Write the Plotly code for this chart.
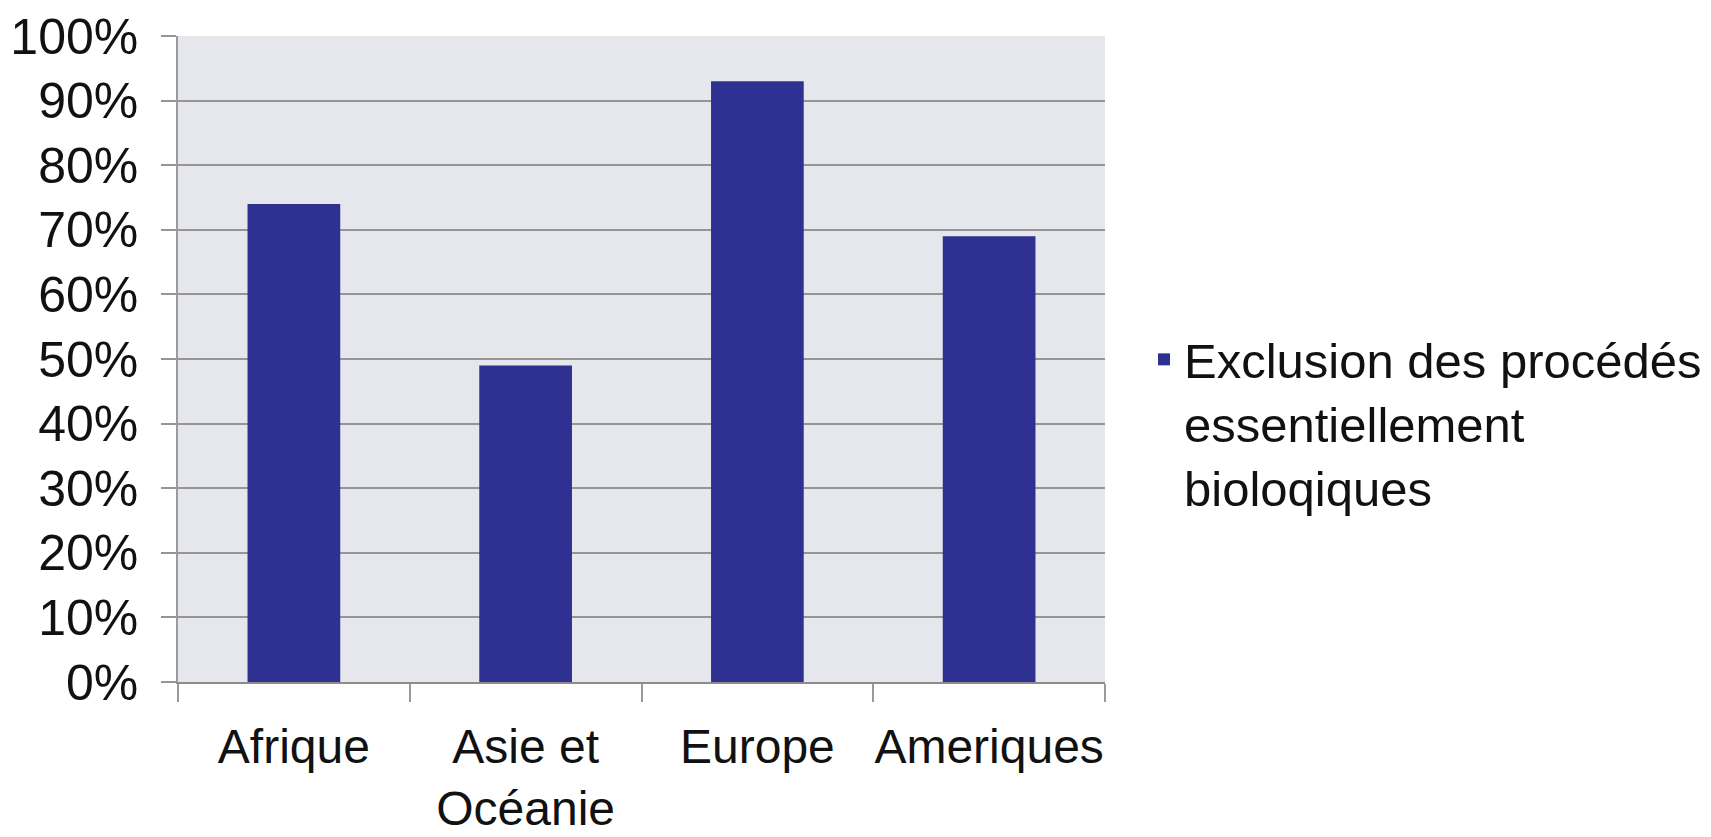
import plotly.graph_objects as go

categories = ["Afrique", "Asie et<br>Océanie", "Europe", "Ameriques"]
values = [74, 49, 93, 69]
series_name = "Exclusion des procédés<br>essentiellement<br>bioloqiques"
y_ticks = [0, 10, 20, 30, 40, 50, 60, 70, 80, 90, 100]
y_tick_labels = [f"{v}%" for v in y_ticks]

W, H = 1711, 837
L, R, T, B = 170, 614, 28, 163

fig = go.Figure()
fig.add_trace(go.Bar(
    x=categories, y=values, name=series_name,
    marker=dict(color="#2E3192", line=dict(width=0)),
    showlegend=True,
))

font = "Liberation Sans, Arial, Helvetica, sans-serif"
fig.update_layout(
    width=W, height=H,
    margin=dict(l=L, r=R, t=T, b=B, autoexpand=False),
    paper_bgcolor="white",
    plot_bgcolor="#E5E7EC",
    bargap=0.6,
    font=dict(family=font, size=48, color="#111111"),
    showlegend=True,
    legend=dict(
        x=(1136 - L) / (W - L - R), xanchor="left",
        y=(H - B - 313) / (H - T - B), yanchor="top",
        valign="top",
        font=dict(family=font, size=49, color="#111111"),
        bgcolor="rgba(0,0,0,0)",
        borderwidth=0,
    ),
    xaxis=dict(
        type="category",
        showgrid=False,
        showline=True, linecolor="#8C8C8C", linewidth=2,
        ticks="outside", tickson="boundaries", ticklen=18, tickwidth=1.5, tickcolor="#9A9A9A",
        tickfont=dict(family=font, size=48, color="#111111"),
        tickangle=0,
        ticklabelstandoff=21,
    ),
    yaxis=dict(
        range=[0, 100],
        tickvals=y_ticks, ticktext=y_tick_labels,
        showgrid=True, gridcolor="#959595", gridwidth=2,
        showline=True, linecolor="#9A9A9A", linewidth=1.5,
        ticks="outside", ticklen=15, tickwidth=2, tickcolor="#959595",
        tickfont=dict(family=font, size=50, color="#111111"),
        ticklabelstandoff=13,
        zeroline=False,
    ),
)

fig.write_html("out.html")
